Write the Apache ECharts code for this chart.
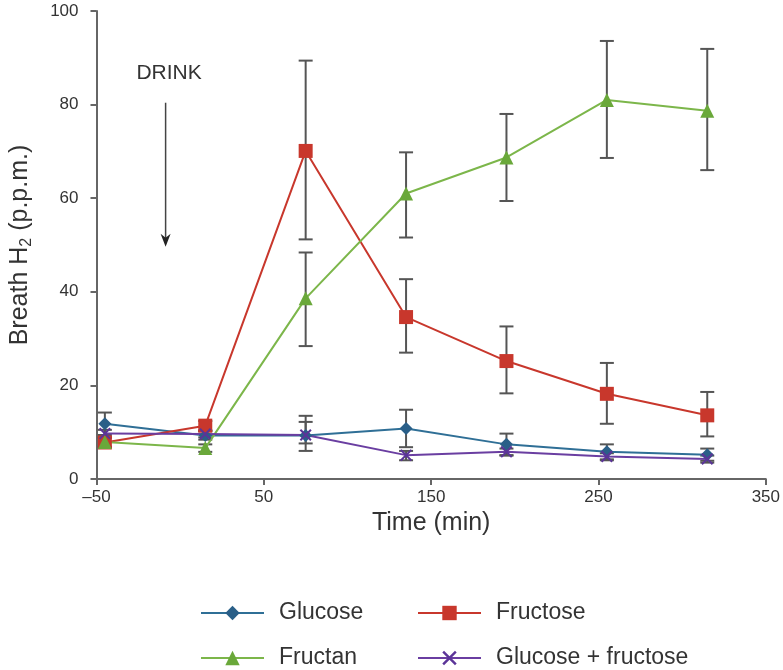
<!DOCTYPE html>
<html>
<head>
<meta charset="utf-8">
<script src="https://cdn.jsdelivr.net/npm/echarts@6/dist/echarts.min.js"></script>
<style>
html,body{margin:0;padding:0;background:#fff;}
#chart{width:783px;height:670px;}
</style>
</head>
<body>
<div id="chart"></div>
<script>
// ---- data ----
var times = [-45, 15, 75, 135, 195, 255, 315];

var glucose      = [11.8, 9.3, 9.3, 10.8, 7.4, 5.8, 5.2];
var glucoseHi    = [14.2, 10.2, 13.5, 14.8, 9.7, 7.4, 6.5];
var glucoseLo    = [9.4, 8.4, 6.0, 6.8, 5.1, 4.2, 3.9];

var fructose     = [7.8, 11.4, 70.1, 34.6, 25.2, 18.2, 13.6];
var fructoseHi   = [8.8, 12.4, 89.4, 42.7, 32.6, 24.8, 18.6];
var fructoseLo   = [6.8, 10.4, 51.2, 27.0, 18.3, 11.8, 9.1];

var fructan      = [7.9, 6.6, 38.6, 61.0, 68.7, 81.0, 78.7];
var fructanHi    = [8.9, 7.4, 48.4, 69.8, 78.0, 93.6, 91.9];
var fructanLo    = [6.9, 5.8, 28.4, 51.6, 59.4, 68.6, 66.0];

var glucFruc     = [9.7, 9.6, 9.4, 5.1, 5.8, 4.8, 4.3];
var glucFrucHi   = [10.5, 10.3, 12.2, 6.0, 6.5, 5.5, 5.0];
var glucFrucLo   = [8.9, 8.9, 7.6, 4.0, 5.0, 4.0, 3.5];

var seriesNames = ['Glucose', 'Fructose', 'Fructan', 'Glucose + fructose'];
var xTicks = [-50, 50, 150, 250, 350];
var yTicks = [0, 20, 40, 60, 80, 100];

// annotation (data coordinates)
var drinkLabel = 'DRINK';
var drinkArrowX = -8.7, drinkArrowTop = 80.4, drinkArrowBottom = 49.6;
var drinkTextX = -6.6, drinkTextY = 86.8;

// ---- build ----
var FONT = '"Liberation Sans", Arial, Helvetica, sans-serif';
var colors = ['#2f6f96', '#c8372c', '#7cb64a', '#6a3ea1'];
var markerColors = ['#2a5f88', '#c8372c', '#6aa83a', '#5b3498'];
var xPath = 'path://M0,1.2L1.2,0L5,3.8L8.8,0L10,1.2L6.2,5L10,8.8L8.8,10L5,6.2L1.2,10L0,8.8L3.8,5Z';
var symbols = ['diamond', 'rect', 'triangle', xPath];
var symbolSizes = [13, 14, 14, 12];
var vals = [glucose, fructose, fructan, glucFruc];
var his = [glucoseHi, fructoseHi, fructanHi, glucFrucHi];
var los = [glucoseLo, fructoseLo, fructanLo, glucFrucLo];

function pairs(arr) { return times.map(function (t, i) { return [t, arr[i]]; }); }

var errData = [];
for (var s = 0; s < 4; s++) {
  for (var i = 0; i < times.length; i++) errData.push([times[i], los[s][i], his[s][i]]);
}

var series = [{
  type: 'custom',
  name: 'err',
  z: 1,
  silent: true,
  data: errData,
  encode: { x: 0, y: [1, 2] },
  renderItem: function (params, api) {
    var x = api.value(0);
    var lo = api.coord([x, api.value(1)]);
    var hi = api.coord([x, api.value(2)]);
    var hw = 7;
    var st = { stroke: '#555', lineWidth: 2 };
    return {
      type: 'group',
      children: [
        { type: 'line', shape: { x1: lo[0], y1: lo[1], x2: hi[0], y2: hi[1] }, style: st },
        { type: 'line', shape: { x1: hi[0] - hw, y1: hi[1], x2: hi[0] + hw, y2: hi[1] }, style: st },
        { type: 'line', shape: { x1: lo[0] - hw, y1: lo[1], x2: lo[0] + hw, y2: lo[1] }, style: st }
      ]
    };
  }
}];

for (var k = 0; k < 4; k++) {
  series.push({
    type: 'line',
    name: seriesNames[k],
    data: pairs(vals[k]),
    z: 3,
    symbol: symbols[k],
    symbolSize: symbolSizes[k],
    showAllSymbol: true,
    lineStyle: { color: colors[k], width: 2 },
    itemStyle: { color: markerColors[k], borderWidth: 0 },
    emphasis: { disabled: true },
    animation: false
  });
}

function legendAt(name, left, top) {
  return {
    data: [name],
    left: left,
    top: top,
    padding: 0,
    itemWidth: 63,
    itemHeight: 18,
    selectedMode: false,
    textStyle: { fontFamily: FONT, fontSize: 23, color: '#333', padding: [0, 0, 0, 10], lineHeight: 26 }
  };
}

var option = {
  animation: false,
  backgroundColor: '#fff',
  color: colors,
  grid: { left: 92, right: 16, top: 11, bottom: 191, containLabel: false },
  legend: [
    legendAt('Glucose', 200, 600),
    legendAt('Fructose', 417, 600),
    legendAt('Fructan', 200, 645),
    legendAt('Glucose + fructose', 417, 645)
  ],
  xAxis: {
    type: 'value',
    min: xTicks[0],
    max: xTicks[xTicks.length - 1],
    interval: xTicks[1] - xTicks[0],
    name: 'Time (min)',
    nameLocation: 'middle',
    nameGap: 27,
    nameTextStyle: { fontFamily: FONT, fontSize: 25, color: '#333' },
    axisLine: { onZero: false, lineStyle: { color: '#666', width: 2 } },
    axisTick: { show: true, length: 6, lineStyle: { color: '#666', width: 2 } },
    axisLabel: {
      fontFamily: FONT, fontSize: 17, color: '#333', margin: 10,
      formatter: function (v) { return String(v).replace('-', '\u2013'); }
    },
    splitLine: { show: false }
  },
  yAxis: {
    type: 'value',
    min: yTicks[0],
    max: yTicks[yTicks.length - 1],
    interval: yTicks[1] - yTicks[0],
    name: 'Breath H{sub|2} (p.p.m.)',
    nameLocation: 'middle',
    nameGap: 62,
    nameTextStyle: {
      fontFamily: FONT, fontSize: 25, color: '#333',
      rich: { sub: { fontFamily: FONT, fontSize: 16, color: '#333', verticalAlign: 'bottom', padding: [12, 0, 0, 0] } }
    },
    axisLine: { show: true, onZero: false, lineStyle: { color: '#666', width: 2 } },
    axisTick: { show: true, length: 6, lineStyle: { color: '#666', width: 2 } },
    axisLabel: { fontFamily: FONT, fontSize: 17, color: '#333', margin: 18 },
    splitLine: { show: false }
  },
  series: series
};

var chart = echarts.init(document.getElementById('chart'), null, { renderer: 'canvas' });
chart.setOption(option);

var pTop = chart.convertToPixel({ gridIndex: 0 }, [drinkArrowX, drinkArrowTop]);
var pBot = chart.convertToPixel({ gridIndex: 0 }, [drinkArrowX, drinkArrowBottom]);
var pTxt = chart.convertToPixel({ gridIndex: 0 }, [drinkTextX, drinkTextY]);
var headLen = 13, headHalf = 5;
chart.setOption({
  graphic: [
    { type: 'line', shape: { x1: pTop[0], y1: pTop[1], x2: pBot[0], y2: pBot[1] - 4 },
      style: { stroke: '#444', lineWidth: 1.5 }, silent: true },
    { type: 'polygon', shape: { points: [[pBot[0] - headHalf, pBot[1] - headLen], [pBot[0], pBot[1] - headLen + 4], [pBot[0] + headHalf, pBot[1] - headLen], [pBot[0], pBot[1]]] },
      style: { fill: '#222' }, silent: true },
    { type: 'text', x: pTxt[0], y: pTxt[1],
      style: { text: drinkLabel, font: '21px ' + FONT, fill: '#333', align: 'center', verticalAlign: 'middle' }, silent: true }
  ]
});
</script>
</body>
</html>
